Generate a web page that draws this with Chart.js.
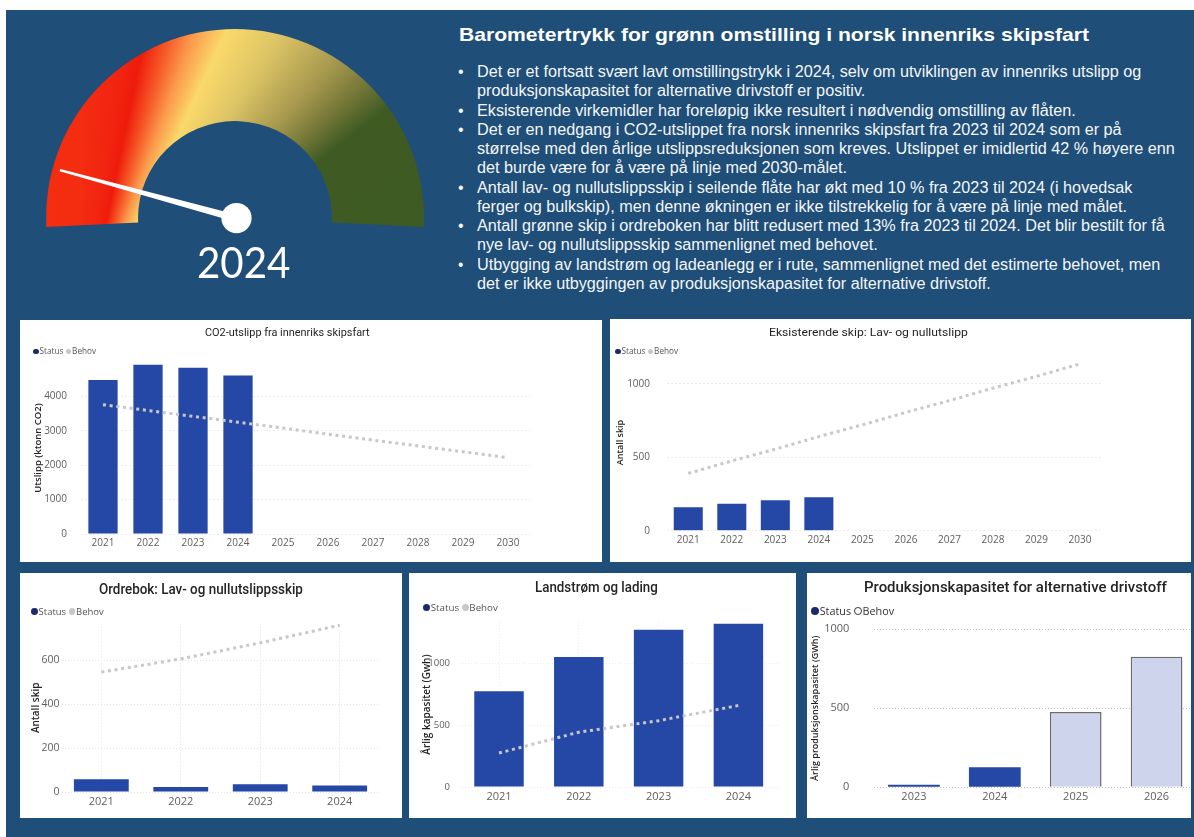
<!DOCTYPE html>
<html><head><meta charset="utf-8">
<script src="https://cdn.jsdelivr.net/npm/chart.js@4.4.1/dist/chart.umd.min.js"></script>
<style>
html,body{margin:0;padding:0;}
body{width:1194px;height:837px;position:relative;background:#fff;overflow:hidden;font-family:'Liberation Sans',Arial,sans-serif;}
#bg{position:absolute;left:6px;top:10px;width:1188px;height:827px;background:#1f4e79;}
.panel{position:absolute;background:#fff;overflow:hidden;}
.panel canvas{position:absolute;left:0;top:0;}
#gauge{position:absolute;left:36px;top:19px;}
.t{position:absolute;white-space:nowrap;transform-origin:left center;line-height:1;z-index:5;}
.ttl{font-family:Roboto,'Open Sans',sans-serif;color:#252423;}
.leg{font-family:'Open Sans','Noto Sans',sans-serif;color:#555;}
.dot{display:inline-block;width:0.72em;height:0.72em;border-radius:50%;vertical-align:-0.05em;margin-right:0.08em;box-sizing:border-box;}
.bl{font-family:'Liberation Sans',Arial,sans-serif;font-size:16px;color:#f4f6f8;}
</style>
</head>
<body>
<div id="bg"></div>
<canvas id="gauge"></canvas>

<div class="panel" style="left:20px;top:320px;width:582px;height:242px"><canvas id="c1"></canvas></div>
<div class="panel" style="left:610px;top:319px;width:581px;height:243px"><canvas id="c2"></canvas></div>
<div class="panel" style="left:20px;top:573px;width:382px;height:245px"><canvas id="c3"></canvas></div>
<div class="panel" style="left:409px;top:573px;width:387px;height:245px"><canvas id="c4"></canvas></div>
<div class="panel" style="left:807px;top:573px;width:384px;height:245px"><canvas id="c5"></canvas></div>

<div class="t fit" data-cx="243.5" data-cy="262" data-w="93" style="font-family:Lato,'Open Sans',sans-serif;font-size:42px;color:#fff">2024</div>
<div class="t fit" data-x="459" data-cy="34" data-w="630" style="font-weight:bold;font-size:19px;color:#fff">Barometertrykk for grønn omstilling i norsk innenriks skipsfart</div>

<div class="t fit ttl" data-cx="287" data-cy="333" data-w="165" style="font-size:11.5px">CO2-utslipp fra innenriks skipsfart</div>
<div class="t fit ttl" data-cx="868" data-cy="333" data-w="199" style="font-size:11.5px">Eksisterende skip: Lav- og nullutslipp</div>
<div class="t fit ttl" data-cx="201" data-cy="589" data-w="204" style="font-size:14px;font-weight:500">Ordrebok: Lav- og nullutslippsskip</div>
<div class="t fit ttl" data-cx="596" data-cy="587" data-w="123" style="font-size:14px;font-weight:500">Landstrøm og lading</div>
<div class="t fit ttl" data-cx="1015" data-cy="587" data-w="303" style="font-size:15px;font-weight:500">Produksjonskapasitet for alternative drivstoff</div>

<div class="t sz leg" data-x="33" data-cy="351" data-w="63" style="font-size:9px"><span class="dot" style="background:#1b2a6b"></span>Status <span class="dot" style="background:#c8c8c8"></span>Behov</div>
<div class="t sz leg" data-x="615" data-cy="351" data-w="63" style="font-size:9px"><span class="dot" style="background:#1b2a6b"></span>Status <span class="dot" style="background:#c8c8c8"></span>Behov</div>
<div class="t sz leg" data-x="31" data-cy="611" data-w="73" style="font-size:10px"><span class="dot" style="background:#1b2a6b"></span>Status <span class="dot" style="background:#c8c8c8"></span>Behov</div>
<div class="t sz leg" data-x="423" data-cy="608" data-w="75" style="font-size:10px"><span class="dot" style="background:#1b2a6b"></span>Status <span class="dot" style="background:#c8c8c8"></span>Behov</div>
<div class="t sz leg" data-x="811" data-cy="611" data-w="83" style="font-size:12px;color:#333"><span class="dot" style="background:#1b2a6b"></span>Status <span class="dot" style="background:#fff;border:1.5px solid #333"></span>Behov</div>

<div id="bullets"></div>

<script>
// ---------------- data ----------------
const years10 = ['2021','2022','2023','2024','2025','2026','2027','2028','2029','2030'];
const years4 = ['2021','2022','2023','2024'];
const yearsProd = ['2023','2024','2025','2026'];

const co2Status = [4480, 4920, 4830, 4610, null, null, null, null, null, null];
const co2Behov  = [3760, 3590, 3420, 3250, 3080, 2900, 2730, 2560, 2390, 2220];
const co2Ticks  = [0, 1000, 2000, 3000, 4000];

const eksStatus = [159, 184, 207, 227, null, null, null, null, null, null];
const eksBehov  = [390, 475, 555, 640, 720, 805, 885, 970, 1050, 1135];
const eksTicks  = [0, 500, 1000];

const ordreStatus = [58, 23, 35, 30];
const ordreBehov  = [545, 605, 678, 758];
const ordreTicks  = [0, 200, 400, 600];

const landStatus = [772, 1048, 1268, 1317];
const landBehov  = [274, 442, 535, 657];
const landTicks  = [0, 500, 1000];

const prodStatus = [15, 127, null, null];
const prodBehov  = [null, null, 477, 826];
const prodTicks  = [0, 500, 1000];

const gaugeRange = [100];
const needleValue = [8.5];

const bulletParas = [
 ['Det er et fortsatt svært lavt omstillingstrykk i 2024, selv om utviklingen av innenriks utslipp og', 'produksjonskapasitet for alternative drivstoff er positiv.'],
 ['Eksisterende virkemidler har foreløpig ikke resultert i nødvendig omstilling av flåten.'],
 ['Det er en nedgang i CO2-utslippet fra norsk innenriks skipsfart fra 2023 til 2024 som er på', 'størrelse med den årlige utslippsreduksjonen som kreves. Utslippet er imidlertid 42 % høyere enn', 'det burde være for å være på linje med 2030-målet.'],
 ['Antall lav- og nullutslippsskip i seilende flåte har økt med 10 % fra 2023 til 2024 (i hovedsak', 'ferger og bulkskip), men denne økningen er ikke tilstrekkelig for å være på linje med målet.'],
 ['Antall grønne skip i ordreboken har blitt redusert med 13% fra 2023 til 2024. Det blir bestilt for få', 'nye lav- og nullutslippsskip sammenlignet med behovet.'],
 ['Utbygging av landstrøm og ladeanlegg er i rute, sammenlignet med det estimerte behovet, men', 'det er ikke utbyggingen av produksjonskapasitet for alternative drivstoff.']
];

// ---------------- styles ----------------
const FT = "'Open Sans','Noto Sans',sans-serif";
const TICK = '#605e5c';
const BAR = '#2547a6';
const BEHOV = '#c8c8c8';

// ---------------- bullets ----------------
(function(){
  const host = document.getElementById('bullets');
  let i = 0;
  bulletParas.forEach(p => {
    p.forEach((line, k) => {
      const cy = 73 + 19.27 * i;
      if (k === 0) {
        const b = document.createElement('div');
        b.className = 't bl bdot'; b.textContent = '•';
        b.dataset.x = 458; b.dataset.cy = cy;
        host.appendChild(b);
      }
      const d = document.createElement('div');
      d.className = 't bl bline'; d.textContent = line;
      d.dataset.x = 477; d.dataset.cy = cy;
      if (i === 4) d.dataset.ref = '1174.5';
      host.appendChild(d);
      i++;
    });
  });
})();

function layoutText(){
  document.querySelectorAll('.fit').forEach(el => {
    el.style.transform = 'none';
    const nat = el.offsetWidth, h = el.offsetHeight, w = +el.dataset.w;
    const left = el.dataset.cx ? (+el.dataset.cx - w/2) : +el.dataset.x;
    el.style.left = left + 'px';
    el.style.top = (+el.dataset.cy - h/2) + 'px';
    el.style.transform = 'scaleX(' + (w/nat) + ')';
  });
  document.querySelectorAll('.sz').forEach(el => {
    const fs = parseFloat(el.style.fontSize);
    const nat = el.offsetWidth, w = +el.dataset.w;
    el.style.fontSize = (fs * w / nat) + 'px';
    el.style.left = el.dataset.x + 'px';
    el.style.top = (+el.dataset.cy - el.offsetHeight/2) + 'px';
  });
  const ref = document.querySelector('.bline[data-ref]');
  const s = (+ref.dataset.ref - 477) / ref.offsetWidth;
  document.querySelectorAll('.bl').forEach(el => {
    el.style.left = el.dataset.x + 'px';
    el.style.top = (+el.dataset.cy - el.offsetHeight/2 - 1) + 'px';
    if (el.classList.contains('bline')) el.style.transform = 'scaleX(' + s + ')';
  });
}

// ---------------- gauge ----------------
// conic colour stops: [angle from vertical (deg, clockwise), colour]
const gaugeStops = [
  [-30,'#f4300f'],[0,'#f42c10'],[8,'#f22410'],[11.7,'#ee1b0b'],[16,'#f65a28'],[20,'#fb9a4c'],
  [25,'#fad96a'],[33,'#dcc465'],[42,'#a6984e'],[47,'#7a7a3a'],[52.4,'#3f5b23'],[80,'#3d5a22'],[330,'#3d5a22']
];
const needlePlugin = {
  id:'needle',
  afterDatasetsDraw(chart){
    const arc = chart.getDatasetMeta(0).data[0];
    const x = arc.x, y = arc.y, r = arc.outerRadius;
    const a = Math.PI + (needleValue[0] / gaugeRange[0]) * Math.PI;
    const len = r * 0.96;
    const tx = x + Math.cos(a) * len, ty = y + Math.sin(a) * len;
    const nx = -Math.sin(a), ny = Math.cos(a);
    const w0 = 3.6, w1 = 1.2;
    const ctx = chart.ctx;
    ctx.save();
    ctx.fillStyle = '#ffffff';
    ctx.beginPath();
    ctx.moveTo(x + nx*w0, y + ny*w0);
    ctx.lineTo(tx + nx*w1, ty + ny*w1);
    ctx.lineTo(tx - nx*w1, ty - ny*w1);
    ctx.lineTo(x - nx*w0, y - ny*w0);
    ctx.closePath(); ctx.fill();
    ctx.beginPath(); ctx.arc(x + 1.5, y, r * 0.08, 0, Math.PI*2); ctx.fill();
    ctx.restore();
  }
};
(function(){
  const cv = document.getElementById('gauge');
  cv.width = 398; cv.height = 230; cv.style.width = '398px'; cv.style.height = '230px';
  new Chart(cv, {
    type:'doughnut',
    data:{ labels:['Omstillingstrykk'], datasets:[{
      data: gaugeRange, borderWidth:0,
      backgroundColor: (c) => {
        const ctx = c.chart.ctx;
        let g;
        if (ctx.createConicGradient) {
          g = ctx.createConicGradient((-30 - 90) * Math.PI / 180, 81 - 36, 344 - 19);
          gaugeStops.forEach(s => g.addColorStop((s[0] + 30) / 360, s[1]));
        } else {
          g = ctx.createLinearGradient(63, 17, 411, 144);
          g.addColorStop(0, '#f4300f'); g.addColorStop(0.3, '#fad96a'); g.addColorStop(0.72, '#3f5b23');
        }
        return g;
      }
    }]},
    options:{
      responsive:false, devicePixelRatio:1, animation:false, events:[],
      rotation:-92.7, circumference:185.4, cutout:'51.3%',
      layout:{padding:{left:10, top:10, right:10, bottom:22}},
      plugins:{legend:{display:false}, tooltip:{enabled:false}}
    },
    plugins:[needlePlugin]
  });
})();

// ---------------- bar charts ----------------
function barChart(id, cfg){
  const P = cfg.panel, A = cfg.area;
  const cw = cfg.canvasW || P[2], ch = P[3];
  const cv = document.getElementById(id);
  cv.width = cw; cv.height = ch; cv.style.width = cw + 'px'; cv.style.height = ch + 'px';
  const off = cfg.yTitleSize * 1.2 / 2;
  const axisLeft = cfg.yTitleX - off;
  const pad = {left: axisLeft - P[0], top: A[1] - P[1], right: P[0] + cw - A[2], bottom: 0};
  const yW = A[0] - axisLeft, xH = P[1] + ch - A[3];
  const yPad = A[0] - cfg.yTickRight;
  const xPad = cfg.xLabelY - A[3] - cfg.tickSize * 0.6;
  return new Chart(cv, {
    type:'bar',
    data:{labels: cfg.labels, datasets: cfg.datasets},
    options:{
      responsive:false, devicePixelRatio:1, animation:false, events:[],
      layout:{padding: pad},
      plugins:{legend:{display:false}, tooltip:{enabled:false}},
      datasets:{bar:{barPercentage: cfg.barPct, categoryPercentage:1, grouped: cfg.grouped !== false}},
      scales:{
        x:{
          offset:true,
          grid:{display: !!cfg.xGrid, offset:false, color: cfg.gridColor, drawTicks:false},
          border:{display:false, dash:[1,2]},
          ticks:{padding: xPad, color: TICK, font:{family: FT, size: cfg.tickSize}, maxRotation:0, autoSkip:false},
          afterFit: s => { s.height = xH; }
        },
        y:{
          min:0, max: cfg.max,
          afterBuildTicks: s => { s.ticks = cfg.ticks.map(v => ({value: v})); },
          grid:{color: cfg.gridColor, drawTicks:false},
          border:{display:false, dash: cfg.gridDash},
          ticks:{padding: yPad, color: TICK, font:{family: FT, size: cfg.yTickSize || cfg.tickSize}, callback: v => String(v)},
          title:{display:true, text: cfg.yTitle, color:'#252423', font:{family: FT, size: cfg.yTitleSize, weight:'600'}, padding:0},
          afterFit: s => { s.width = yW; }
        }
      }
    }
  });
}

function statusBehov(status, behov){
  return [
    {type:'line', label:'Behov', data: behov, borderColor: BEHOV, borderWidth:3, borderDash:[3,3.7],
     pointRadius:0, fill:false, tension:0, order:0},
    {type:'bar', label:'Status', data: status, backgroundColor: BAR, borderWidth:0, order:1}
  ];
}

barChart('c1', {
  panel:[20,320,582,242], area:[80.5,362,530.5,534],
  yTitleX:38, yTitleSize:9.5, yTitle:'Utslipp (ktonn CO2)', yTickRight:67,
  xLabelY:543, tickSize:10, max:5000, ticks: co2Ticks, labels: years10,
  datasets: statusBehov(co2Status, co2Behov), barPct:0.65,
  gridColor:'#ededed', gridDash:[2,2]
});
barChart('c2', {
  panel:[610,319,581,243], area:[666.5,354.3,1101.8,530.7],
  yTitleX:620, yTitleSize:9, yTitle:'Antall skip', yTickRight:650,
  xLabelY:539.7, tickSize:10, max:1200, ticks: eksTicks, labels: years10,
  datasets: statusBehov(eksStatus, eksBehov), barPct:0.667,
  gridColor:'#ededed', gridDash:[2,2]
});
barChart('c3', {
  panel:[20,573,382,245], area:[61.6,623.7,379.4,792],
  yTitleX:36.3, yTitleSize:10, yTitle:'Antall skip', yTickRight:59.6,
  xLabelY:802, tickSize:11, yTickSize:10.5, max:765, ticks: ordreTicks, labels: years4,
  datasets: statusBehov(ordreStatus, ordreBehov), barPct:0.69, xGrid:true,
  gridColor:'#e4e4e4', gridDash:[1,2]
});
barChart('c4', {
  panel:[409,573,387,245], area:[459.1,622.1,778.3,787],
  yTitleX:426.7, yTitleSize:10, yTitle:'Årlig kapasitet (Gwh)', yTickRight:450,
  xLabelY:797, tickSize:11, yTickSize:9.5, max:1330, ticks: landTicks, labels: years4,
  datasets: statusBehov(landStatus, landBehov), barPct:0.62, xGrid:true,
  gridColor:'#ececec', gridDash:[1,2]
});
barChart('c5', {
  panel:[807,573,384,245], canvasW:398, area:[873.5,629.3,1197,792.7],
  yTitleX:815, yTitleSize:9, yTitle:'Årlig produksjonskapasitet (GWh)', yTickRight:849.3,
  xLabelY:802.7, tickSize:11, max:1000, ticks: prodTicks, labels: yearsProd,
  datasets:[
    {label:'Status', data: prodStatus, backgroundColor: BAR, borderWidth:0},
    {label:'Behov', data: prodBehov, backgroundColor:'#cdd4ec', borderColor:'#6b6b6b', borderWidth:1.5}
  ],
  grouped:false, barPct:0.64, gridColor:'#c4c4c4', gridDash:[1,2]
});

layoutText();
if (document.fonts && document.fonts.ready) document.fonts.ready.then(layoutText);
</script>
</body></html>
